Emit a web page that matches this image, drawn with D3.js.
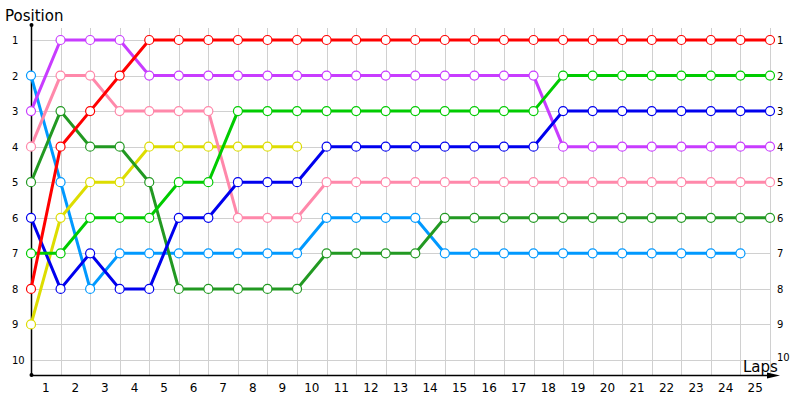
<!DOCTYPE html>
<html>
<head>
<meta charset="utf-8">
<script src="https://cdn.jsdelivr.net/npm/d3@7"></script>
<style>
  body { margin: 0; background: #fff; }
  text { font-family: "DejaVu Sans", Verdana, sans-serif; }
</style>
</head>
<body>
<script>
"use strict";

/* lap columns (0 = start) and tick labels */
var laps = [0,1,2,3,4,5,6,7,8,9,10,11,12,13,14,15,16,17,18,19,20,21,22,23,24,25];
var lapLabels = ["1","2","3","4","5","6","7","8","9","10","11","12","13","14","15","16","17","18","19","20","21","22","23","24","25"];
var positions = [1,2,3,4,5,6,7,8,9,10];

/* position per lap, one array per driver */
var red       = [8,4,3,2,1,1,1,1,1,1,1,1,1,1,1,1,1,1,1,1,1,1,1,1,1,1];
var purple    = [3,1,1,1,2,2,2,2,2,2,2,2,2,2,2,2,2,2,4,4,4,4,4,4,4,4];
var pink      = [4,2,2,3,3,3,3,6,6,6,5,5,5,5,5,5,5,5,5,5,5,5,5,5,5,5];
var darkGreen = [5,3,4,4,5,8,8,8,8,8,7,7,7,7,6,6,6,6,6,6,6,6,6,6,6,6];
var green     = [7,7,6,6,6,5,5,3,3,3,3,3,3,3,3,3,3,3,2,2,2,2,2,2,2,2];
var yellow    = [9,6,5,5,4,4,4,4,4,4];
var blue      = [6,8,7,8,8,6,6,5,5,5,4,4,4,4,4,4,4,4,3,3,3,3,3,3,3,3];
var lightBlue = [2,5,8,7,7,7,7,7,7,7,6,6,6,6,7,7,7,7,7,7,7,7,7,7,7];

var series = [
  { name: "lightBlue", color: "#0099ff", values: lightBlue },
  { name: "yellow",    color: "#dddd00", values: yellow },
  { name: "darkGreen", color: "#229922", values: darkGreen },
  { name: "pink",      color: "#ff88aa", values: pink },
  { name: "purple",    color: "#c83cff", values: purple },
  { name: "blue",      color: "#0000ee", values: blue },
  { name: "green",     color: "#00cc00", values: green },
  { name: "red",       color: "#ff0000", values: red }
];

var width = 800, height = 400;
var axisY = 375, axisX = 31;

var x = d3.scaleLinear().domain([0, 25]).range([31, 770]);
var y = d3.scaleLinear().domain([1, 10]).range([40, 360]);

var svg = d3.select("body").append("svg")
    .attr("width", width)
    .attr("height", height);

/* grid */
var grid = svg.append("g").attr("class", "grid")
    .attr("stroke", "#d0d0d0").attr("stroke-width", 1);
grid.selectAll("line.v").data(laps).enter().append("line")
    .attr("class", "v")
    .attr("x1", function (d) { return Math.round(x(d)) + 0.5; })
    .attr("x2", function (d) { return Math.round(x(d)) + 0.5; })
    .attr("y1", 28).attr("y2", axisY);
grid.selectAll("line.h").data(positions).enter().append("line")
    .attr("class", "h")
    .attr("x1", axisX).attr("x2", x(25))
    .attr("y1", function (d) { return Math.round(y(d)) + 0.5; })
    .attr("y2", function (d) { return Math.round(y(d)) + 0.5; });

/* axes */
svg.append("line")
    .attr("x1", axisX + 0.5).attr("x2", axisX + 0.5)
    .attr("y1", 25).attr("y2", axisY)
    .attr("stroke", "#000").attr("stroke-width", 1.5);
svg.append("circle").attr("cx", axisX + 0.5).attr("cy", 25).attr("r", 2).attr("fill", "#000");
svg.append("circle").attr("cx", axisX + 0.5).attr("cy", axisY).attr("r", 2).attr("fill", "#000");
svg.append("line")
    .attr("x1", axisX).attr("x2", 772)
    .attr("y1", axisY + 0.5).attr("y2", axisY + 0.5)
    .attr("stroke", "#000").attr("stroke-width", 1.5);
svg.append("path")
    .attr("d", "M767," + (axisY - 2.5) + "L780," + (axisY + 0.5) + "L767," + (axisY + 3.5) + "Z")
    .attr("fill", "#000");

/* tick labels */
svg.selectAll("text.xl").data(lapLabels).enter().append("text")
    .attr("class", "xl")
    .attr("x", function (d, i) { return x(i + 0.5); })
    .attr("y", 392)
    .attr("text-anchor", "middle")
    .style("font-size", "12px")
    .text(function (d) { return d; });

svg.selectAll("text.yl").data(positions).enter().append("text")
    .attr("class", "yl")
    .attr("x", 12)
    .attr("y", function (d) { return y(d) + 4; })
    .style("font-size", "10px")
    .text(function (d) { return d; });

svg.selectAll("text.yr").data(positions).enter().append("text")
    .attr("class", "yr")
    .attr("x", 777)
    .attr("y", function (d) { return y(d) + (d === 10 ? 1 : 4); })
    .style("font-size", "10px")
    .text(function (d) { return d; });

svg.append("text").attr("x", 5).attr("y", 21)
    .style("font-size", "15px").text("Position");
svg.append("text").attr("x", 743).attr("y", 372)
    .style("font-size", "15px").text("Laps");

/* lines and markers */
var line = d3.line()
    .x(function (d, i) { return x(laps[i]); })
    .y(function (d) { return y(d); });

var g = svg.selectAll("g.series").data(series).enter().append("g")
    .attr("class", "series");
g.append("path")
    .attr("d", function (s) { return line(s.values); })
    .attr("fill", "none")
    .attr("stroke", function (s) { return s.color; })
    .attr("stroke-width", 3);
g.selectAll("circle").data(function (s) {
    return s.values.map(function (v, i) { return { lap: laps[i], pos: v, color: s.color }; });
  }).enter().append("circle")
    .attr("cx", function (d) { return x(d.lap); })
    .attr("cy", function (d) { return y(d.pos); })
    .attr("r", 4.5)
    .attr("fill", "#fff")
    .attr("stroke", function (d) { return d.color; })
    .attr("stroke-width", 1.2);
</script>
</body>
</html>
